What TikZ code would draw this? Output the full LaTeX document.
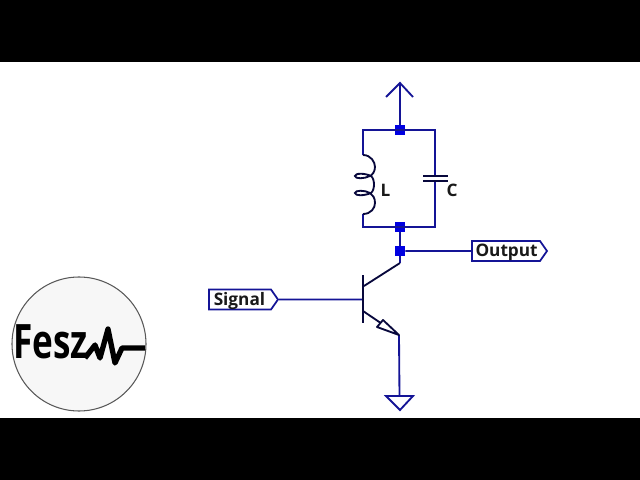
\documentclass[tikz,border=0pt]{standalone}
\usepackage{fontspec}
\setmainfont{Open Sans}
\usetikzlibrary{shapes.symbols}
\definecolor{wire}{RGB}{20,20,150}
\definecolor{dot}{RGB}{0,0,225}
\tikzset{
	net/.style={wire,line width=1.05pt,line join=miter},
	part/.style={black!60!wire,line width=1.05pt},
	junction/.style={fill=dot,inner sep=0,minimum size=5.8pt,shape=rectangle},
	tag/.style={draw=wire,line width=1pt,fill=white,font=\fontsize{9.8}{10}\bfseries,text=black!90,inner sep=0,text height=8pt,text depth=1.2pt},
	val/.style={font=\fontsize{9.8}{10}\bfseries,text=black!90},
}
\begin{document}
\begin{tikzpicture}[x=0.02cm,y=-0.02cm,line cap=butt]
		\useasboundingbox (0,0) rectangle (640,480);
		\fill[black] (0,0) rectangle (640,62);
		\fill[black] (0,418) rectangle (640,480);
		% logo
		\node[circle,draw=black!65,line width=.6pt,fill=black!3,minimum size=134*0.02cm,inner sep=0] (logo) at (79,344) {};
		\node[font=\fontsize{27}{28}\bfseries,xscale=.74,inner sep=0,anchor=west] (fesz) at (13,342) {Fesz};
		\coordinate (wave) at (85,358);
		\draw[line width=3pt,line join=round] (wave) -- (95,345) -- (100,358) -- (108,329) -- (115,363) -- (122,348) -- (145,348);
		% nets
		\coordinate (vcc) at (400,83);
		\node[junction] (jtop) at (400,130) {};
		\node[junction] (jbot) at (400,227) {};
		\node[junction] (jout) at (400,251) {};
		\coordinate (tl) at (363,130);
		\coordinate (tr) at (435,130);
		\coordinate (bl) at (363,227);
		\coordinate (br) at (435,227);
		\coordinate (lt) at (363,155);
		\coordinate (lb) at (363,214);
		\coordinate (ct) at (435,176);
		\coordinate (cb) at (435,181);
		\coordinate (col) at (400,263);
		\coordinate (emi) at (399,335);
		\coordinate (gnd) at (399.5,396);
		\coordinate (bas) at (363,299.5);
		\draw[net] (lt) -- (tl) -- (tr) -- (ct);
		\draw[net] (lb) -- (bl) -- (br) -- (cb);
		\draw[net] (vcc) -- (jtop);
		\draw[net] (386,97) -- (vcc) -- (413,97);
		\draw[net] (jbot) -- (jout) -- (col);
		\draw[net] (emi) -- (gnd);
		\draw[net] (386,396) -- (413,396) -- (400,410) -- cycle;
		% tags
		\node[tag,signal,signal to=east,signal pointer angle=110,minimum height=20*0.02cm,minimum width=75*0.02cm,text width=61*0.02cm,align=left] (out) at (506,251) {Output};
		\node[tag,signal,signal to=east,signal pointer angle=110,minimum height=20*0.02cm,minimum width=69*0.02cm,text width=56*0.02cm,align=left] (sig) at (240,299.5) {\hspace*{1pt}Signal};
		\draw[net] (jout) -- (out);
		\draw[net] (sig) -- (bas);
		% parts
		\draw[part] (363,275) -- (363,323);
		\draw[part] (364,286) -- (col);
		\draw[part] (363,311) -- (380,322.5);
		\draw[part,fill=white,line join=round] (emi) -- (377,327) -- (383,320) -- cycle;
		\draw[part] (423,176) -- (448,176);
		\draw[part] (423,181) -- (448,181);
		\draw[part] (lt) .. controls (371,155) and (375,162) .. (375,167) .. controls (375,172) and (372,175) .. (370,176)
			.. controls (364,179) and (355,179) .. (355,176) .. controls (355,173) and (365,173) .. (371,176)
			.. controls (375,179) and (375,190) .. (371,193)
			.. controls (364,196) and (355,196) .. (355,193) .. controls (355,190) and (365,190) .. (370,193)
			.. controls (373,195) and (375,198) .. (375,203) .. controls (375,208) and (371,214) .. (lb);
		\node[val] (lbl) at (385.5,190.5) {L};
		\node[val] (cap) at (452,190.5) {C};
\end{tikzpicture}
\end{document}
